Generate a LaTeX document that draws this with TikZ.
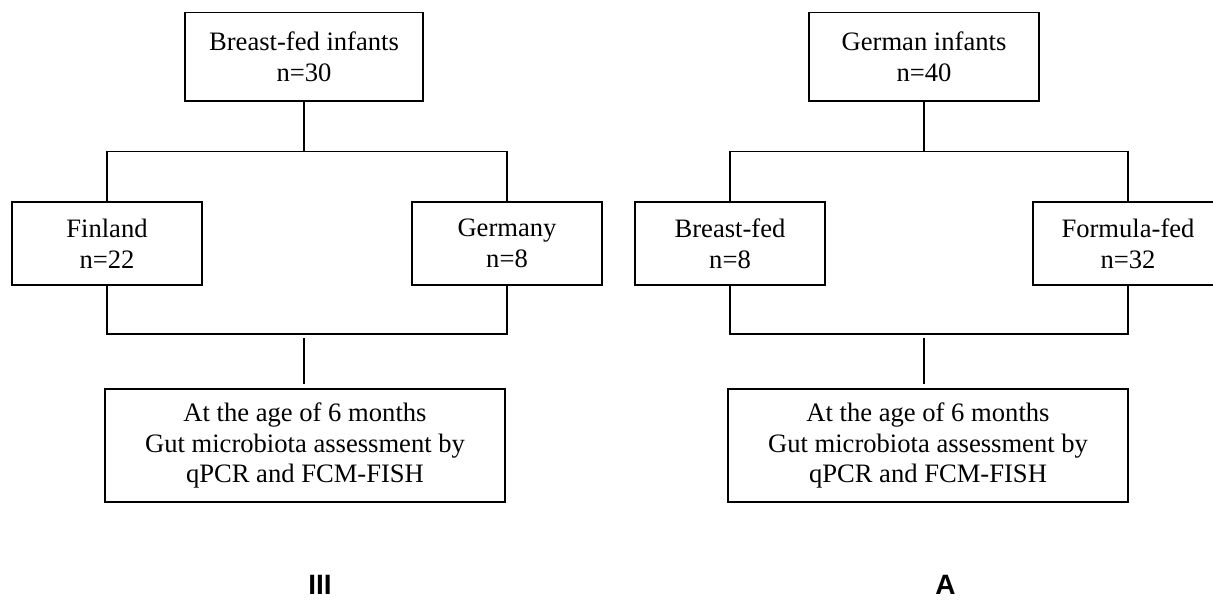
\documentclass[tikz,border=0pt]{standalone}
\usepackage{fontspec}
\setmainfont{Liberation Serif}
\setsansfont{Liberation Sans}
\begin{document}
\begin{tikzpicture}[x=0.5pt,y=-0.5pt,line width=0.85pt,
  box/.style={draw,rectangle,inner sep=0pt,align=center,
    font=\fontsize{13.3}{15.4}\selectfont},
  topbox/.style={box,minimum height=44.25pt},
  sidebox/.style={box,minimum width=95pt,minimum height=41.5pt},
  endbox/.style={box,minimum width=200pt,minimum height=56.5pt},
  panel/.style={inner sep=0pt,font=\fontsize{14}{16}\sffamily\bfseries}]
\useasboundingbox (0,0) rectangle (1213,599);

\node[topbox,minimum width=119pt] (btop) at (304,56.75) {Breast-fed infants\\n=30};
\node[sidebox] (bfin) at (107,243.5) {Finland\\n=22};
\node[sidebox] (bger) at (507,243.5) {Germany\\n=8};
\node[endbox] (bbot) at (305,445.5) {At the age of 6 months\\Gut microbiota assessment by\\qPCR and FCM-FISH};
\coordinate (bj) at (304,151.5);
\coordinate (bk) at (304,334);
\draw (btop) -- (bj);
\draw (bfin.north) |- (bj) -| (bger.north);
\draw (bfin.south) |- (bk) -| (bger.south);
\draw[shorten <=1.75pt,shorten >=2pt] (bk) -- (bbot.north -| bk);
\node[panel] (blab) at (320,585) {III};

\node[topbox,minimum width=115pt] (gtop) at (924,56.75) {German infants\\n=40};
\node[sidebox] (gbf) at (730,243.5) {Breast-fed\\n=8};
\node[sidebox] (gff) at (1128,243.5) {Formula-fed\\n=32};
\node[endbox] (gbot) at (928,445.5) {At the age of 6 months\\Gut microbiota assessment by\\qPCR and FCM-FISH};
\coordinate (gj) at (924,151.5);
\coordinate (gk) at (924,334);
\draw (gtop) -- (gj);
\draw (gbf.north) |- (gj) -| (gff.north);
\draw (gbf.south) |- (gk) -| (gff.south);
\draw[shorten <=1.75pt,shorten >=2pt] (gk) -- (gbot.north -| gk);
\node[panel] (glab) at (945.5,585) {A};
\end{tikzpicture}
\end{document}
